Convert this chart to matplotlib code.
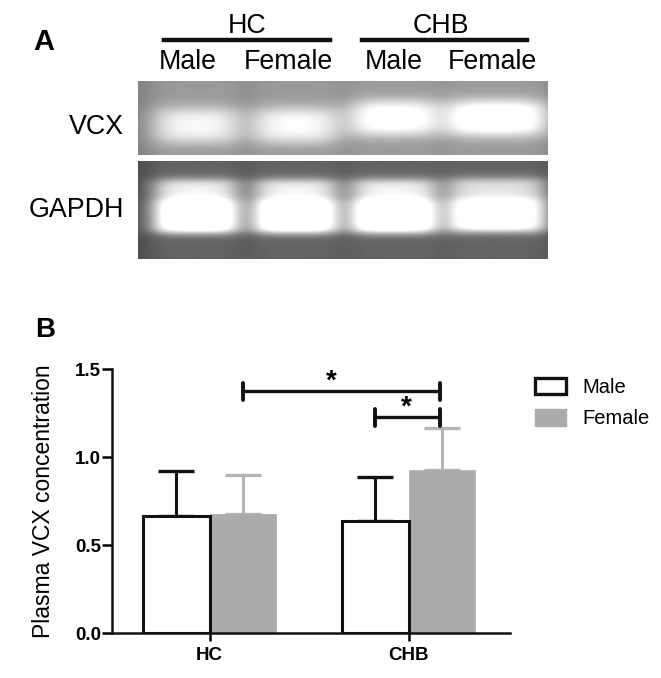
import numpy as np
import matplotlib
matplotlib.use("Agg")
import matplotlib.pyplot as plt
from matplotlib.patches import Patch

plt.rcParams['font.family'] = ['Liberation Sans', 'DejaVu Sans']

# ---------------- data ----------------
groups = ['HC', 'CHB']
sexes = ['Male', 'Female']
male_mean = [0.665, 0.64]
male_err = [0.255, 0.247]
female_mean = [0.68, 0.926]
female_err = [0.22, 0.239]
yticks = [0.0, 0.5, 1.0, 1.5]
ylabel = 'Plasma VCX concentration'

gel_genes = ['VCX', 'GAPDH']
gel_lanes = ['HC Male', 'HC Female', 'CHB Male', 'CHB Female']
vcx_band = [0.90, 0.92, 1.0, 1.06]
gapdh_band = [1.12, 1.12, 1.12, 1.02]

# ---------------- layout helpers ----------------
W, H = 661, 678
fig = plt.figure(figsize=(W / 100, H / 100), dpi=100)


def rect(l, t, r, b):
    return [l / W, 1 - b / H, (r - l) / W, (b - t) / H]


def fx(x):
    return x / W


def fy(y):
    return 1 - y / H


def box(t, c, hw, soft):
    return 0.5 * (np.tanh((t - (c - hw)) / soft) - np.tanh((t - (c + hw)) / soft))


lane_c = [0.142, 0.385, 0.625, 0.876]
lane_hw = [0.098, 0.097, 0.10, 0.115]


def gel_image(ny, nx, bg, streak, peaks, yc, yhw, xsoft, ysoft, core):
    x = (np.arange(nx) + 0.5) / nx
    y = (np.arange(ny) + 0.5) / ny
    img = np.full((ny, nx), bg)
    for i, p in enumerate(peaks):
        bx = box(x, lane_c[i], lane_hw[i] + 0.015, 0.03)
        img += streak * bx[None, :]
        by = box(y, yc[i], yhw, ysoft)
        if core:
            by = 0.7 * by + 0.4 * box(y, yc[i] + 0.1, yhw * 0.6, ysoft)
        img += (p - bg) * by[:, None] * box(x, lane_c[i], lane_hw[i], xsoft)[None, :]
    return np.clip(img, 0, 1)


# ---------------- panel A: gel ----------------
ax_v = fig.add_axes(rect(138, 81, 547, 155))
img_v = gel_image(74, 409, 0.50, 0.10, vcx_band,
                  [0.60, 0.60, 0.50, 0.50], 0.22, 0.045, 0.11, False)
ax_v.imshow(img_v, cmap='gray', vmin=0, vmax=1, aspect='auto',
            interpolation='bilinear')
ax_v.axis('off')

ax_g = fig.add_axes(rect(138, 161, 547, 259))
img_g = gel_image(98, 409, 0.30, 0.09, gapdh_band,
                  [0.46, 0.46, 0.46, 0.45], 0.27, 0.035, 0.05, True)
ax_g.imshow(img_g, cmap='gray', vmin=0, vmax=1, aspect='auto',
            interpolation='bilinear')
ax_g.axis('off')

fs_a = 19.3
fig.text(fx(33), fy(50), 'A', fontsize=21, fontweight='bold', ha='left', va='baseline')
for g, cx, (l, r) in zip(groups, [247, 441], [(164, 330), (362, 527)]):
    fig.text(fx(cx), fy(33), g, fontsize=fs_a, ha='center', va='baseline')
    fig.add_artist(plt.Line2D([fx(l), fx(r)], [fy(40), fy(40)], color='#111111',
                              lw=3.2, transform=fig.transFigure))
for lab, cx in zip(gel_lanes, [188, 288, 394, 492]):
    fig.text(fx(cx), fy(69), lab.split()[1], fontsize=fs_a, ha='center', va='baseline')
fig.text(fx(124), fy(127), gel_genes[0], fontsize=fs_a, ha='right', va='center')
fig.text(fx(124), fy(210), gel_genes[1], fontsize=fs_a, ha='right', va='center')

# ---------------- panel B: bar chart ----------------
fig.text(fx(35), fy(337), 'B', fontsize=20, fontweight='bold', ha='left', va='baseline')

ax = fig.add_axes(rect(112, 369.3, 510, 633.3))
x = np.arange(len(groups))
w = 0.335
gray = '#ababab'
egray = '#b5b5b5'

ax.bar(x - w / 2, male_mean, w, color='white', edgecolor='#111111', linewidth=2.2,
       zorder=3, label=sexes[0])
ax.bar(x + w / 2, female_mean, w, color=gray, edgecolor=gray, linewidth=0.5,
       zorder=2, label=sexes[1])
ax.errorbar(x - w / 2, male_mean, yerr=[np.zeros(len(x)), male_err], fmt='none',
            ecolor='#111111', elinewidth=2.2, capsize=13, capthick=2.4, zorder=2)
ax.errorbar(x + w / 2, female_mean, yerr=[np.zeros(len(x)), female_err], fmt='none',
            ecolor=egray, elinewidth=2.2, capsize=13, capthick=2.4, zorder=1)


# significance brackets
def bracket(x0, x1, y, sx, sy):
    ax.plot([x0, x1], [y, y], color='#111111', lw=2.4, solid_capstyle='butt', zorder=4)
    for xx in (x0, x1):
        ax.plot([xx, xx], [y - 0.048, y + 0.048], color='#111111', lw=2.8,
                solid_capstyle='round', zorder=4)
    ax.text(sx, sy, '*', fontsize=20, fontweight='bold', ha='center', va='center')


bracket(x[0] + w / 2, x[1] + w / 2 - 0.01, 1.375, 0.61, 1.43)
bracket(x[1] - w / 2, x[1] + w / 2 - 0.01, 1.227, 0.99, 1.28)

ax.set_xlim(-0.49, 1.51)
ax.set_ylim(0, 1.5)
ax.set_yticks(yticks)
ax.set_yticklabels([f'{v:.1f}' for v in yticks], fontsize=13.5, fontweight='bold')
ax.set_xticks(x)
ax.set_xticklabels(groups, fontsize=13.5, fontweight='bold')
ax.tick_params(axis='y', length=7, width=1.8, pad=1)
ax.tick_params(axis='x', length=6, width=1.8, pad=4)
for s in ['top', 'right']:
    ax.spines[s].set_visible(False)
for s in ['left', 'bottom']:
    ax.spines[s].set_linewidth(1.8)
    ax.spines[s].set_color('#111111')
ax.set_ylabel(ylabel, fontsize=16.5, va='baseline')
ax.yaxis.set_label_coords((50 - 112) / 398, 0.5)

handles = [Patch(facecolor='white', edgecolor='#111111', linewidth=2.4, label=sexes[0]),
           Patch(facecolor=gray, edgecolor=gray, label=sexes[1])]
ax.legend(handles=handles, loc='upper left', bbox_to_anchor=(fx(535), fy(378)),
          bbox_transform=fig.transFigure, frameon=False, fontsize=14.5,
          handlelength=1.55, handleheight=0.85, handletextpad=0.8,
          labelspacing=0.62, borderpad=0, borderaxespad=0)

fig.savefig('out.png', dpi=100)
